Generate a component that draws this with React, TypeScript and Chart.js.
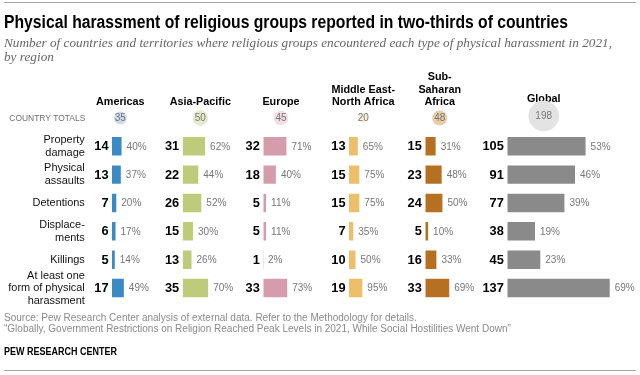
import React, { useEffect, useRef } from "react";
import { Chart, registerables } from "chart.js";

Chart.register(...registerables);

// ---------- data ----------
const categories: string[][] = [
  ["Property", "damage"],
  ["Physical", "assaults"],
  ["Detentions"],
  ["Displace-", "ments"],
  ["Killings"],
  ["At least one", "form of physical", "harassment"],
];
const regionNames: string[][] = [
  ["Americas"],
  ["Asia-Pacific"],
  ["Europe"],
  ["Middle East-", "North Africa"],
  ["Sub-", "Saharan", "Africa"],
  ["Global"],
];
const countryTotals = [35, 50, 45, 20, 48, 198];

const americas = [14, 13, 7, 6, 5, 17];
const asiaPacific = [31, 22, 26, 15, 13, 35];
const europe = [32, 18, 5, 5, 1, 33];
const middleEastNorthAfrica = [13, 15, 15, 7, 10, 19];
const subSaharanAfrica = [15, 23, 24, 5, 16, 33];
const globalCounts = [105, 91, 77, 38, 45, 137];

const americasPct = [40, 37, 20, 17, 14, 49];
const asiaPacificPct = [62, 44, 52, 30, 26, 70];
const europePct = [71, 40, 11, 11, 2, 73];
const menaPct = [65, 75, 75, 35, 50, 95];
const subSaharanPct = [31, 48, 50, 10, 33, 69];
const globalPct = [53, 46, 39, 19, 23, 69];

const TITLE = "Physical harassment of religious groups reported in two-thirds of countries";
const SUBTITLE = [
  "Number of countries and territories where religious groups encountered each type of physical harassment in 2021,",
  "by region",
];
const COUNTRY_TOTALS_LABEL = "COUNTRY TOTALS";
const SOURCE = [
  "Source: Pew Research Center analysis of external data. Refer to the Methodology for details.",
  "\u201cGlobally, Government Restrictions on Religion Reached Peak Levels in 2021, While Social Hostilities Went Down\u201d",
];
const CREDIT = "PEW RESEARCH CENTER";

const seriesCounts = [americas, asiaPacific, europe, middleEastNorthAfrica, subSaharanAfrica, globalCounts];
const seriesPct = [americasPct, asiaPacificPct, europePct, menaPct, subSaharanPct, globalPct];

// ---------- styles / layout ----------
const barColors = ["#3A8BC3", "#BECB7A", "#D49CAC", "#EEBF6A", "#B57021", "#8A8A8A"];
const circleColors = ["#CADCEB", "#E6EBCD", "#F2DEE4", "#FBF0DE", "#E8CDA8", "#E3E3E3"];
const SANS = "'Liberation Sans', Arial, sans-serif";
const SERIF = "Georgia, 'Liberation Serif', 'DejaVu Serif', serif";

const W = 640;
const H = 375;
const AREA_LEFT = 90;
const AREA_RIGHT = 630;
const PX_PER_COUNT = 0.755;
const regionBarStart = [112, 182.7, 263.3, 349, 425.3, 507.3];
const regionHeaderX = [120.3, 200.3, 281, 363.2, 439.7, 543.7];
const regionHeaderBottom = [104.7, 104.7, 104.7, 105.3, 105.3, 102];
const circleY = [118, 118, 118, 118, 118, 116];
const ROW_LABEL_RIGHT = 84.8;
const ROW_LABEL_LINE = 12.6;
const ROW_LABEL_SX = 0.95;

function drawFit(
  ctx: CanvasRenderingContext2D,
  text: string,
  x: number,
  y: number,
  font: string,
  color: string,
  width?: number,
  sxOverride?: number
): number {
  ctx.save();
  ctx.font = font;
  ctx.fillStyle = color;
  ctx.textBaseline = "alphabetic";
  ctx.textAlign = "left";
  const w = ctx.measureText(text).width;
  const sx = sxOverride !== undefined ? sxOverride : width ? width / w : 1;
  ctx.translate(x, y);
  ctx.scale(sx, 1);
  ctx.fillText(text, 0, 0);
  ctx.restore();
  return sx;
}

const overlayPlugin = {
  id: "overlay",
  afterDraw(chart: any) {
    const ctx: CanvasRenderingContext2D = chart.ctx;
    const yScale = chart.scales.y;

    // rules
    ctx.save();
    ctx.strokeStyle = "#a6a6a6";
    ctx.lineWidth = 1;
    ctx.beginPath();
    ctx.moveTo(4, 2.5);
    ctx.lineTo(636, 2.5);
    ctx.moveTo(4, 370.5);
    ctx.lineTo(636, 370.5);
    ctx.stroke();
    ctx.restore();

    // title and subtitle
    drawFit(ctx, TITLE, 4, 27.5, `bold 18px ${SANS}`, "#000", 564);
    const ssx = drawFit(ctx, SUBTITLE[0], 4, 47, `italic 13px ${SERIF}`, "#666", 608);
    drawFit(ctx, SUBTITLE[1], 4, 61, `italic 13px ${SERIF}`, "#666", undefined, ssx);

    // country totals label
    ctx.save();
    ctx.font = `9.5px ${SANS}`;
    const ctw = ctx.measureText(COUNTRY_TOTALS_LABEL).width;
    ctx.fillStyle = "#6f6f6f";
    ctx.textBaseline = "middle";
    ctx.translate(9.3, 118);
    ctx.scale(76 / ctw, 1);
    ctx.fillText(COUNTRY_TOTALS_LABEL, 0, 0);
    ctx.restore();

    // row labels (category names, placed on the category scale)
    categories.forEach((lines, j) => {
      const yc = yScale.getPixelForValue(j);
      ctx.save();
      ctx.font = `11.5px ${SANS}`;
      ctx.fillStyle = "#111";
      ctx.textAlign = "right";
      ctx.textBaseline = "middle";
      lines.forEach((ln, k) => {
        const y = yc + (k - (lines.length - 1) / 2) * ROW_LABEL_LINE;
        ctx.save();
        ctx.translate(ROW_LABEL_RIGHT, y);
        ctx.scale(ROW_LABEL_SX, 1);
        ctx.fillText(ln, 0, 0);
        ctx.restore();
      });
      ctx.restore();
    });

    // headers and circles
    regionNames.forEach((lines, i) => {
      const cx = regionHeaderX[i];
      ctx.save();
      ctx.font = `bold 10.8px ${SANS}`;
      ctx.fillStyle = "#000";
      ctx.textAlign = "center";
      ctx.textBaseline = "alphabetic";
      lines.forEach((ln, k) => {
        const y = regionHeaderBottom[i] - (lines.length - 1 - k) * 12.7;
        ctx.fillText(ln, cx, y);
      });
      ctx.restore();

      const r = 1.09 * Math.sqrt(countryTotals[i]);
      ctx.save();
      ctx.fillStyle = circleColors[i];
      ctx.beginPath();
      ctx.arc(cx, circleY[i], r, 0, Math.PI * 2);
      ctx.fill();
      ctx.font = `10px ${SANS}`;
      ctx.fillStyle = "#777";
      ctx.textAlign = "center";
      ctx.textBaseline = "middle";
      ctx.fillText(String(countryTotals[i]), cx, circleY[i] + 0.5);
      ctx.restore();
    });

    // value labels
    seriesCounts.forEach((vals, i) => {
      const xs = chart.scales["x" + i];
      vals.forEach((v, j) => {
        const y = yScale.getPixelForValue(j);
        ctx.save();
        ctx.textBaseline = "middle";
        ctx.font = `bold 12.8px ${SANS}`;
        ctx.fillStyle = "#000";
        ctx.textAlign = "right";
        ctx.fillText(String(v), xs.getPixelForValue(0) - 3.5, y + 0.5);
        ctx.font = `10px ${SANS}`;
        ctx.fillStyle = "#777";
        ctx.textAlign = "left";
        ctx.fillText(seriesPct[i][j] + "%", xs.getPixelForValue(v) + 4, y + 0.5);
        ctx.restore();
      });
    });

    // footer
    const fsx = drawFit(ctx, SOURCE[0], 4, 320.7, `10px ${SANS}`, "#8a8a8a", 412.7);
    drawFit(ctx, SOURCE[1], 4, 332, `10px ${SANS}`, "#8a8a8a", undefined, fsx);
    drawFit(ctx, CREDIT, 4, 355, `bold 10px ${SANS}`, "#000", 113);
  },
};

export default function App() {
  const canvasRef = useRef<HTMLCanvasElement | null>(null);

  useEffect(() => {
    const canvas = canvasRef.current;
    if (!canvas) return;

    const scales: any = {
      y: {
        type: "category",
        position: "left",
        grid: { display: false },
        border: { display: false },
        ticks: { display: false, autoSkip: false },
        afterFit: (s: any) => {
          s.width = AREA_LEFT;
        },
      },
    };
    const spanUnits = (AREA_RIGHT - AREA_LEFT) / PX_PER_COUNT;
    regionBarStart.forEach((x0, i) => {
      const min = -(x0 - AREA_LEFT) / PX_PER_COUNT;
      scales["x" + i] = {
        type: "linear",
        display: false,
        min,
        max: min + spanUnits,
      };
    });

    const datasets = seriesCounts.map((vals, i) => ({
      label: regionNames[i].join(" "),
      data: vals,
      xAxisID: "x" + i,
      yAxisID: "y",
      backgroundColor: barColors[i],
      borderColor: "rgba(255,255,255,0.28)",
      borderWidth: 1,
      grouped: false,
      barPercentage: 0.72,
      categoryPercentage: 1,
    }));

    const chart = new Chart(canvas, {
      type: "bar",
      data: { labels: categories.map((c) => c.join(" ")), datasets: datasets as any },
      options: {
        indexAxis: "y",
        responsive: false,
        animation: false,
        devicePixelRatio: 1,
        layout: { padding: { left: 0, right: W - AREA_RIGHT, top: 132.1, bottom: H - 302.2 } },
        plugins: { legend: { display: false }, tooltip: { enabled: false }, title: { display: false } },
        scales,
      } as any,
      plugins: [overlayPlugin],
    });
    return () => chart.destroy();
  }, []);

  return (
    <div style={{ position: "absolute", left: 0, top: 0, width: W, height: H, background: "#fff" }}>
      <canvas ref={canvasRef} width={W} height={H} style={{ display: "block", width: W, height: H }} />
    </div>
  );
}
